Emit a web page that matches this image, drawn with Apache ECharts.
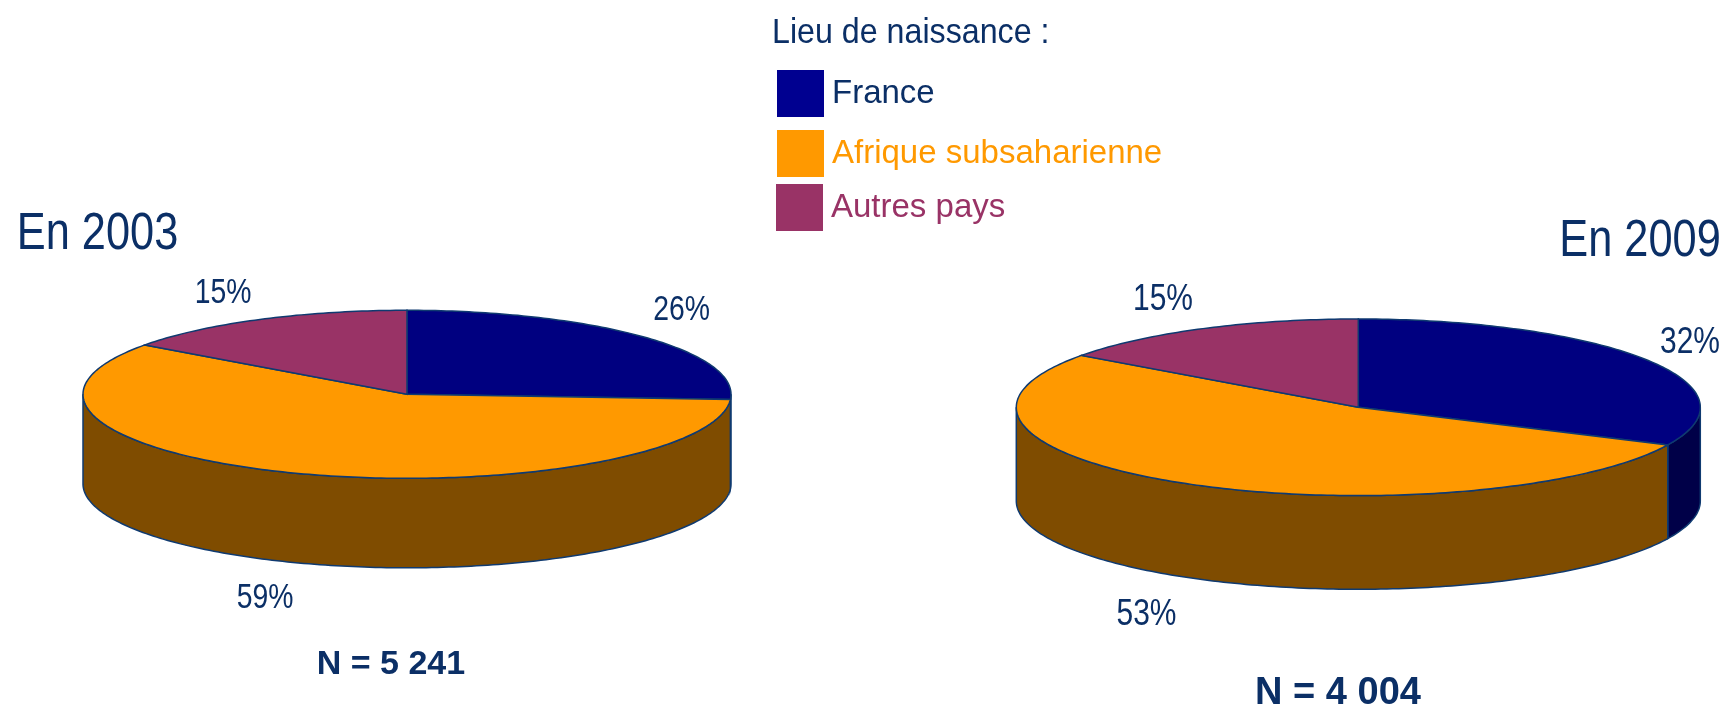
<!DOCTYPE html>
<html>
<head>
<meta charset="utf-8">
<script src="https://cdn.jsdelivr.net/npm/echarts@6/dist/echarts.min.js"></script>
<style>html,body{margin:0;padding:0;background:#fff}#c{width:1727px;height:708px}</style>
</head>
<body>
<div id="c"></div>
<script>
// Data
const years = ['En 2003', 'En 2009'];
const sampleSizes = ['N = 5 241', 'N = 4 004'];
const categories = ['France', 'Afrique subsaharienne', 'Autres pays'];
const france = [26, 32];
const afrique = [59, 53];
const autres = [15, 15];
const legendTitle = 'Lieu de naissance :';

// Style / layout
const topColors = ['#000080', '#FF9900', '#993366'];
const sideColors = ['#000048', '#7F4C00', '#4D1933'];
const swatchColors = ['#000090', '#FF9900', '#993366'];
const legendTextColors = ['#0B2F66', '#FF9900', '#993366'];
const legendBoxes = [[777, 70], [777, 130], [776, 184]];
const ink = '#0B2F66';
const edge = '#0F3A70';
const discs = [
  { cx: 407, cy: 394.3, rx: 324, ry: 84, depth: 89.5 },
  { cx: 1358.3, cy: 407.3, rx: 342, ry: 88.3, depth: 93.7 }
];
const labelAnchors = [
  [[681.5, 310.5], [265, 598], [223, 293]],
  [[1690, 343], [1146.5, 614.5], [1163, 299.5]]
];
const labelFonts = [[35, 35, 35], [37, 37, 37]];
const labelStretch = 0.81;
const titleAnchors = [[97.5, 235], [1640, 241.5]];
const titleFont = 51, titleStretch = 0.85;
const sizeAnchors = [[391, 664.5, 34], [1338, 693.5, 38]];

const seriesValues = [france, afrique, autres];
const RAD = Math.PI / 180;
function rimPoint(d, deg, drop) {
  return [d.cx + d.rx * Math.sin(deg * RAD), d.cy - d.ry * Math.cos(deg * RAD) + (drop || 0)];
}
function renderSlice(params, api) {
  const s = params.seriesIndex, y = params.dataIndex;
  const d = discs[y];
  let before = 0;
  for (let i = 0; i < s; i++) before += seriesValues[i][y];
  const value = api.value(0);
  const a0 = before * 3.6, a1 = (before + value) * 3.6;
  const children = [];

  // side wall: only the front half of the rim is visible
  const f0 = Math.max(a0, 90), f1 = Math.min(a1, 270);
  if (f1 > f0) {
    const up = [], down = [];
    for (let a = f0; a < f1; a += 1) { up.push(rimPoint(d, a)); down.push(rimPoint(d, a, d.depth)); }
    up.push(rimPoint(d, f1)); down.push(rimPoint(d, f1, d.depth));
    children.push({
      type: 'polygon', shape: { points: up.concat(down.reverse()) },
      style: { fill: sideColors[s], stroke: edge, lineWidth: 1.5 }
    });
  }
  // top face
  const pts = [[d.cx, d.cy]];
  for (let a = a0; a < a1; a += 1) pts.push(rimPoint(d, a));
  pts.push(rimPoint(d, a1));
  children.push({
    type: 'polygon', shape: { points: pts }, z2: 5,
    style: { fill: topColors[s], stroke: edge, lineWidth: 1.5 }
  });
  // percent label
  children.push({
    type: 'text', z2: 10,
    x: labelAnchors[y][s][0], y: labelAnchors[y][s][1], scaleX: labelStretch,
    style: {
      text: value + '%', x: 0, y: 0,
      fill: ink, textAlign: 'center', textVerticalAlign: 'middle',
      font: labelFonts[y][s] + 'px "Liberation Sans"'
    }
  });
  return { type: 'group', children };
}

const chart = echarts.init(document.getElementById('c'), null, { renderer: 'canvas' });
const textEls = [];
years.forEach((t, i) => textEls.push({
  type: 'text', x: titleAnchors[i][0], y: titleAnchors[i][1], scaleX: titleStretch,
  style: { text: t, fill: ink, textAlign: 'center', textVerticalAlign: 'middle',
           font: titleFont + 'px "Liberation Sans"' }
}));
sampleSizes.forEach((t, i) => textEls.push({
  type: 'text', x: sizeAnchors[i][0], y: sizeAnchors[i][1],
  style: { text: t, fill: ink, textAlign: 'center', textVerticalAlign: 'middle',
           font: 'bold ' + sizeAnchors[i][2] + 'px "Liberation Sans"' }
}));
textEls.push({
  type: 'text', x: 772, y: 33, scaleX: 0.92,
  style: { text: legendTitle, fill: ink, textAlign: 'left', textVerticalAlign: 'middle',
           font: '35px "Liberation Sans"' }
});

chart.setOption({
  animation: false,
  backgroundColor: '#fff',
  legend: categories.map((c, i) => ({
    show: true, left: legendBoxes[i][0], top: legendBoxes[i][1],
    orient: 'horizontal', padding: 0, selectedMode: false,
    itemWidth: 47, itemHeight: 47,
    data: [{ name: c, icon: 'rect', itemStyle: { color: swatchColors[i], borderWidth: 0 } }],
    textStyle: { color: legendTextColors[i], fontFamily: '"Liberation Sans"', fontSize: 33, padding: [0, 0, 4, 3] }
  })),
  graphic: textEls,
  series: categories.map((c, i) => ({
    type: 'custom', name: c, coordinateSystem: 'none', clip: false,
    itemStyle: { color: topColors[i] },
    renderItem: renderSlice,
    data: seriesValues[i].map(v => [v])
  }))
});
</script>
</body>
</html>
